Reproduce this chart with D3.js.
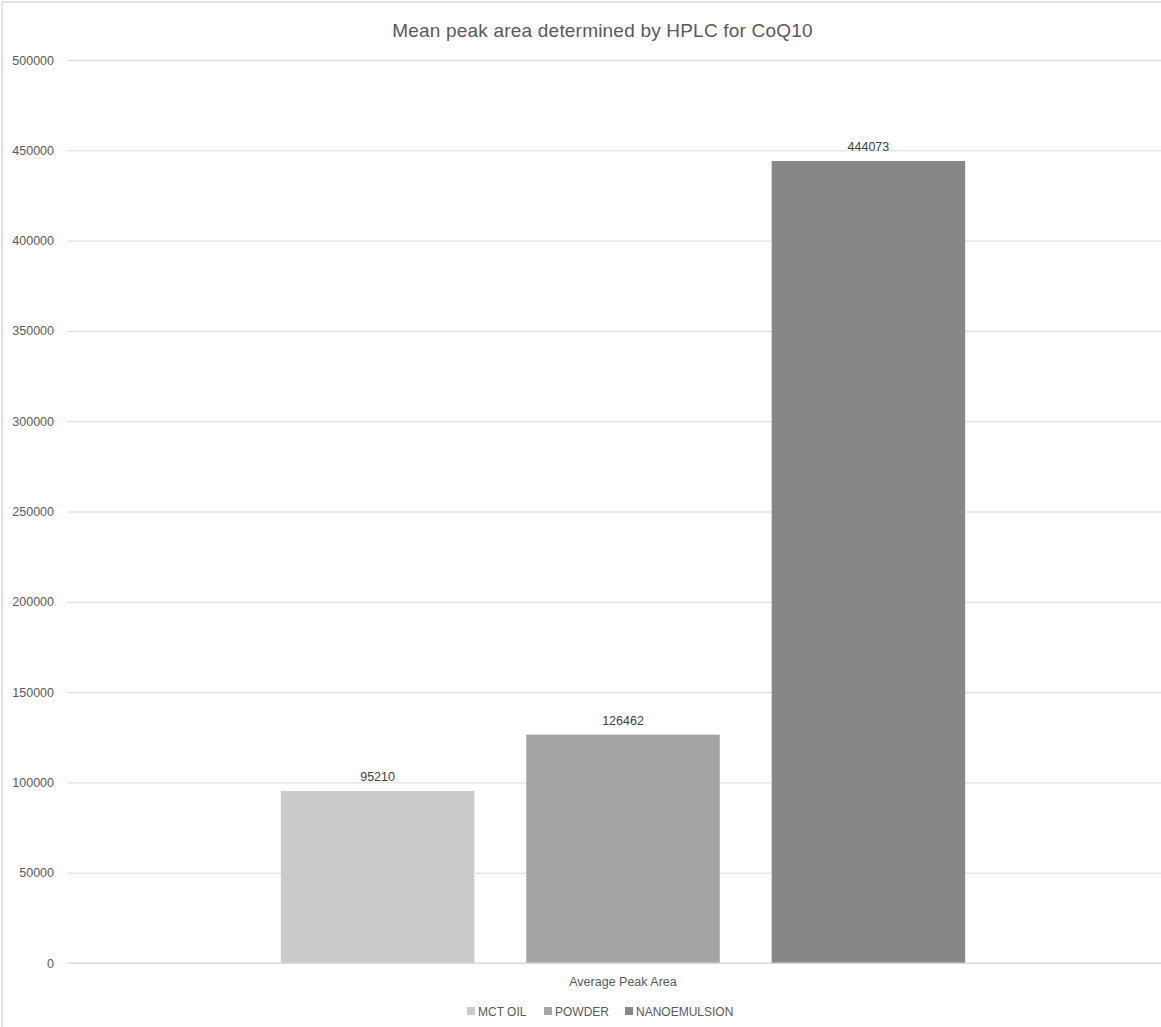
<!DOCTYPE html>
<html>
<head>
<meta charset="utf-8">
<script src="https://cdn.jsdelivr.net/npm/d3@7"></script>
<style>
  body { margin: 0; background: #fff; }
  text { font-family: "Liberation Sans", "DejaVu Sans", sans-serif; }
</style>
</head>
<body>
<div id="chart"></div>
<script>
// data
const categories = ["Average Peak Area"];
const seriesNames = ["MCT OIL", "POWDER", "NANOEMULSION"];
const seriesValues = [95210, 126462, 444073];
const seriesColors = ["#cbcbcb", "#a5a5a5", "#878787"];
const yTicks = [0, 50000, 100000, 150000, 200000, 250000, 300000, 350000, 400000, 450000, 500000];

const W = 1161, H = 1027;
const margin = { top: 60, right: -18, bottom: 64, left: 67 };
const width = W - margin.left - margin.right,
      height = H - margin.top - margin.bottom;

const svg = d3.select("#chart").append("svg")
    .attr("width", W)
    .attr("height", H);

// chart border (only top and left edges are visible in the picture)
svg.append("rect")
    .attr("x", 2).attr("y", 2)
    .attr("width", W + 10).attr("height", H + 10)
    .attr("fill", "#fff")
    .attr("stroke", "#d9d9d9")
    .attr("stroke-width", 1.5);

svg.append("text")
    .attr("x", W / 2 + 22)
    .attr("y", 37)
    .attr("text-anchor", "middle")
    .attr("fill", "#595959")
    .style("font-size", "19px")
    .style("letter-spacing", "0.2px")
    .text("Mean peak area determined by HPLC for CoQ10");

const g = svg.append("g")
    .attr("transform", `translate(${margin.left},${margin.top})`);

const x0 = d3.scaleBand().domain(categories).range([0, width]).paddingOuter(0.3124).paddingInner(0);
const x1 = d3.scaleBand().domain(seriesNames).range([0, x0.bandwidth()]).paddingInner(0.2114).paddingOuter(0);
const y = d3.scaleLinear().domain([0, 500000]).range([height, 0]);

// grid
const yAxis = g.append("g")
    .call(d3.axisLeft(y).tickValues(yTicks).tickSize(-width).tickPadding(13).tickFormat(d3.format("d")));
yAxis.select(".domain").remove();
yAxis.selectAll(".tick line").attr("stroke", "#d9d9d9");
yAxis.selectAll(".tick text")
    .attr("fill", "#595959")
    .style("font-size", "12.5px");

const groups = g.selectAll(".cat")
    .data(categories)
    .join("g")
    .attr("transform", d => `translate(${x0(d)},0)`);

groups.selectAll("rect")
    .data(seriesNames.map((s, i) => ({ s, v: seriesValues[i], c: seriesColors[i] })))
    .join("rect")
    .attr("x", d => x1(d.s))
    .attr("y", d => y(d.v))
    .attr("width", x1.bandwidth())
    .attr("height", d => height - y(d.v))
    .attr("fill", d => d.c);

groups.selectAll(".lbl")
    .data(seriesNames.map((s, i) => ({ s, v: seriesValues[i] })))
    .join("text")
    .attr("class", "lbl")
    .attr("x", d => x1(d.s) + x1.bandwidth() / 2)
    .attr("y", d => y(d.v) - 10)
    .attr("text-anchor", "middle")
    .attr("fill", "#404040")
    .style("font-size", "12.5px")
    .text(d => d.v);

// x axis baseline and category label
g.append("line")
    .attr("x1", 0).attr("x2", width)
    .attr("y1", height).attr("y2", height)
    .attr("stroke", "#d9d9d9");

g.selectAll(".cat-label")
    .data(categories)
    .join("text")
    .attr("x", d => x0(d) + x0.bandwidth() / 2)
    .attr("y", height + 23)
    .attr("text-anchor", "middle")
    .attr("fill", "#595959")
    .style("font-size", "12.5px")
    .text(d => d);

// legend
const legendX = [467, 544, 625];
const legend = svg.append("g").attr("transform", `translate(0,${H - 11})`);
const items = legend.selectAll("g")
    .data(seriesNames)
    .join("g")
    .attr("transform", (d, i) => `translate(${legendX[i]},0)`);
items.append("rect")
    .attr("x", 0).attr("y", -9)
    .attr("width", 8).attr("height", 8)
    .attr("fill", (d, i) => seriesColors[i]);
items.append("text")
    .attr("x", 11)
    .attr("y", 0)
    .attr("fill", "#595959")
    .style("font-size", "12px")
    .text(d => d);
</script>
</body>
</html>
